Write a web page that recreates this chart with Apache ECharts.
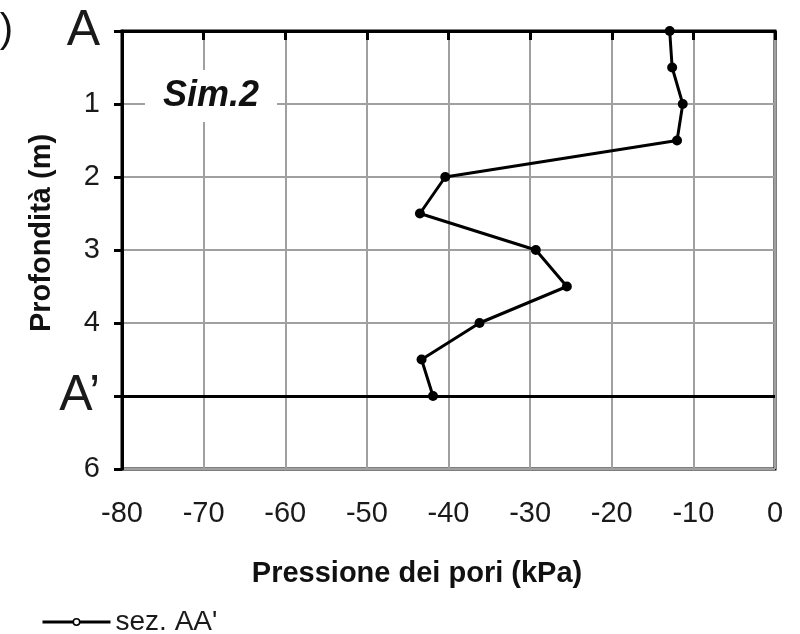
<!DOCTYPE html>
<html>
<head>
<meta charset="utf-8">
<script src="https://cdn.jsdelivr.net/npm/echarts@6/dist/echarts.min.js"></script>
<style>html,body{margin:0;padding:0;background:#fff;}#c{width:800px;height:634px;}</style>
</head>
<body>
<div id="c"></div>
<script>
// Data
const depths = [0, 0.5, 1, 1.5, 2, 2.5, 3, 3.5, 4, 4.5, 5];
const pressure = [-12.9, -12.6, -11.3, -12.0, -40.4, -43.5, -29.3, -25.5, -36.2, -43.3, -41.9];
const seriesName = "sez. AA'";
const yTickLabels = { 0: 'A', 1: '1', 2: '2', 3: '3', 4: '4', 5: 'A\u2019', 6: '6' };
const xTitle = 'Pressione dei pori (kPa)';
const yTitle = 'Profondit\u00e0 (m)';
const panelLabel = 'Sim.2';
const sectionDepth = 5;

const FONT = '"Liberation Sans", Arial, sans-serif';
const chart = echarts.init(document.getElementById('c'), null, { renderer: 'canvas' });

const option = {
  backgroundColor: '#fff',
  animation: false,
  grid: { left: 122, right: 25, top: 31, bottom: 165, show: true, borderColor: '#000', borderWidth: 3 },
  xAxis: {
    type: 'value', min: -80, max: 0, interval: 10,
    axisLine: { show: true, lineStyle: { color: '#000', width: 3 } },
    axisTick: { show: true, inside: false, length: 9, lineStyle: { color: '#000', width: 3 } },
    axisLabel: { margin: 30, fontFamily: FONT, fontSize: 29, color: '#1a1a1a' },
    splitLine: { show: true, lineStyle: { color: '#a0a0a0', width: 2 } }
  },
  yAxis: {
    type: 'value', min: 0, max: 6, interval: 1, inverse: true,
    axisLine: { show: true, onZero: false, lineStyle: { color: '#000', width: 3 } },
    axisTick: { show: true, inside: false, length: 8, lineStyle: { color: '#000', width: 3 } },
    axisLabel: {
      margin: 22, fontFamily: FONT, fontSize: 29, color: '#1a1a1a',
      formatter: function (v) {
        const t = yTickLabels[v];
        if (t === 'A' || t === 'A\u2019') return '{big|' + t + '}';
        return t;
      },
      rich: { big: { fontFamily: FONT, fontSize: 50, color: '#1a1a1a' } }
    },
    splitLine: { show: true, lineStyle: { color: '#a0a0a0', width: 2 } }
  },
  legend: {
    show: true, left: 36, top: 603, orient: 'horizontal',
    itemWidth: 68, itemHeight: 8, itemGap: 10,
    textStyle: { fontFamily: FONT, fontSize: 28, color: '#1a1a1a' },
    itemStyle: { color: '#fff', borderColor: '#000', borderWidth: 1.5 },
    lineStyle: { color: '#000', width: 3 },
    data: [seriesName]
  },
  series: [{
    name: seriesName,
    type: 'line',
    data: depths.map((d, i) => [pressure[i], d]),
    symbol: 'circle', symbolSize: 10,
    itemStyle: { color: '#000' },
    lineStyle: { color: '#000', width: 3 },
    z: 5,
    markLine: {
      silent: true, symbol: ['none', 'none'], label: { show: false },
      lineStyle: { color: '#000', width: 3, type: 'solid' },
      data: [{ yAxis: sectionDepth }],
      z: 3
    }
  }],
  graphic: [
    { type: 'rect', z: 50, shape: { x: 145, y: 70, width: 132, height: 52 }, style: { fill: '#fff' } },
    { type: 'text', z: 51, x: 211, y: 96, style: { text: panelLabel, font: 'italic bold 36px ' + FONT, fill: '#111', align: 'center', verticalAlign: 'middle' } },
    { type: 'text', z: 51, x: 417, y: 574, style: { text: xTitle, font: 'bold 29px ' + FONT, fill: '#111', align: 'center', verticalAlign: 'middle' } },
    { type: 'text', z: 51, x: 42, y: 233, rotation: Math.PI / 2, style: { text: yTitle, font: 'bold 29px ' + FONT, fill: '#111', align: 'center', verticalAlign: 'middle' } },
    { type: 'text', z: 51, x: 13, y: 31, style: { text: ')', font: '40px ' + FONT, fill: '#111', align: 'right', verticalAlign: 'middle' } }
  ]
};
chart.setOption(option);
</script>
</body>
</html>
